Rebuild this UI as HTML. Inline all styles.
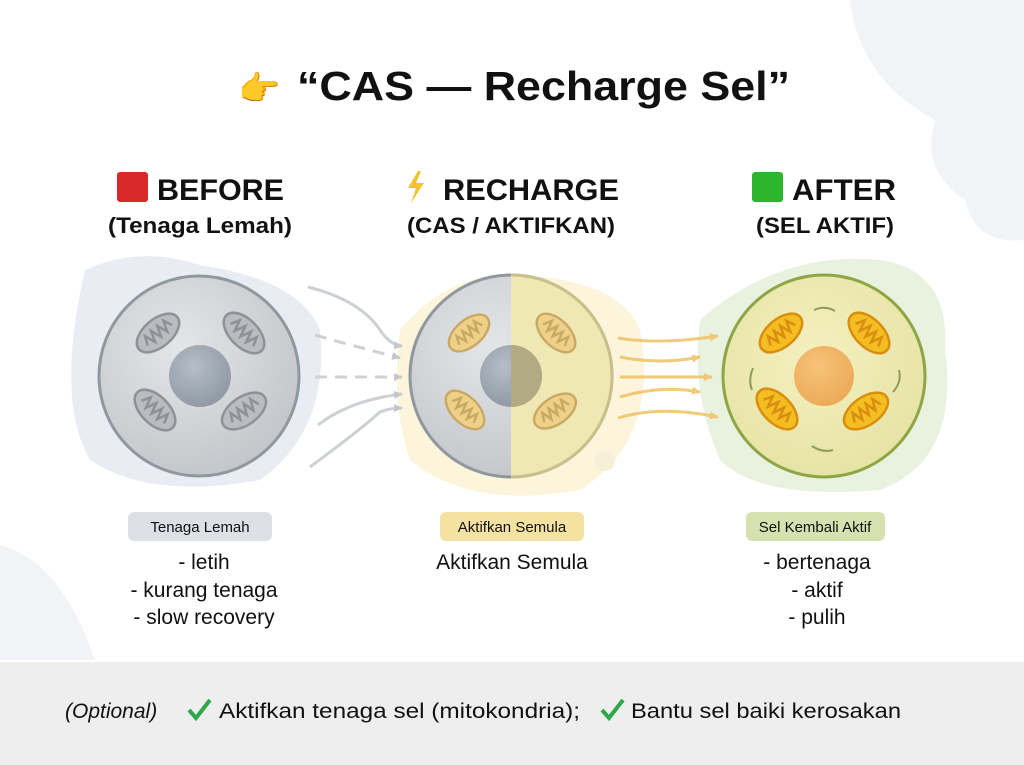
<!DOCTYPE html>
<html><head><meta charset="utf-8"><style>
html,body{margin:0;padding:0;background:#fff}
svg{display:block}
text{font-family:"Liberation Sans",sans-serif;fill:#111}
</style></head><body>
<svg width="1024" height="765" viewBox="0 0 1024 765" xmlns="http://www.w3.org/2000/svg">
<defs>
<radialGradient id="gc" cx="40%" cy="35%" r="70%"><stop offset="0" stop-color="#e4e5e7"/><stop offset="1" stop-color="#c2c5c9"/></radialGradient>
<radialGradient id="yc" cx="45%" cy="40%" r="70%"><stop offset="0" stop-color="#f4f0c0"/><stop offset="1" stop-color="#e3e2a0"/></radialGradient>
<radialGradient id="nuc" cx="40%" cy="35%" r="70%"><stop offset="0" stop-color="#b6bec6"/><stop offset="1" stop-color="#8d98a3"/></radialGradient>
<radialGradient id="onuc" cx="40%" cy="35%" r="70%"><stop offset="0" stop-color="#f7c37a"/><stop offset="1" stop-color="#eba956"/></radialGradient>
<clipPath id="rh"><rect x="511" y="260" width="120" height="240"/></clipPath>
<marker id="ag" markerUnits="userSpaceOnUse" markerWidth="10" markerHeight="10" refX="8" refY="5" orient="auto"><path d="M0,1 L9,5 L0,9 z" fill="#c4c7cb"/></marker>
<marker id="ay" markerUnits="userSpaceOnUse" markerWidth="10" markerHeight="10" refX="8" refY="5" orient="auto"><path d="M0,1 L9,5 L0,9 z" fill="#efc163"/></marker>
<g id="mito"><ellipse cx="0" cy="0" rx="25" ry="14"/><path d="M-16,3 L-12,-6 L-8,5 L-4,-6 L0,5 L4,-6 L8,5 L12,-6 L16,3" fill="none"/></g>
</defs>
<!-- background blobs -->
<path d="M850,0 L1024,0 L1024,240 Q975,245 965,200 Q920,170 935,120 Q860,80 850,0z" fill="#f1f3f7"/>
<path d="M0,545 Q60,560 95,660 L0,660z" fill="#f1f3f7"/>
<path d="M85,270 Q140,245 200,265 Q300,280 320,330 Q330,430 260,480 Q150,500 90,460 Q55,400 85,270z" fill="#e9edf3"/>
<path d="M400,330 Q450,270 520,275 Q620,280 640,330 Q660,440 580,490 Q470,510 410,460 Q390,400 400,330z" fill="#fcf5dc"/>
<path d="M700,320 Q780,250 880,260 Q950,270 945,350 Q960,460 880,490 Q760,500 720,460 Q690,390 700,320z" fill="#e9f2de"/>
<circle cx="605" cy="461" r="10" fill="#f7f0d8"/>
<!-- title -->
<text x="238" y="100" font-size="34">👉</text>
<text x="297" y="100" font-size="41" font-weight="bold" textLength="493" lengthAdjust="spacingAndGlyphs">“CAS — Recharge Sel”</text>
<!-- headers -->
<rect x="117" y="172" width="31" height="30" rx="3" fill="#d82828"/>
<text x="157" y="200" font-size="30" font-weight="bold" textLength="127" lengthAdjust="spacingAndGlyphs">BEFORE</text>
<text x="108" y="233" font-size="22" font-weight="bold" textLength="184" lengthAdjust="spacingAndGlyphs">(Tenaga Lemah)</text>
<path d="M418,171 L408,188 L416,188 L411,203 L424,183 L416,183 L421,171z" fill="#f2c230"/>
<text x="443" y="200" font-size="30" font-weight="bold" textLength="176" lengthAdjust="spacingAndGlyphs">RECHARGE</text>
<text x="407" y="233" font-size="22" font-weight="bold" textLength="208" lengthAdjust="spacingAndGlyphs">(CAS / AKTIFKAN)</text>
<rect x="752" y="172" width="31" height="30" rx="3" fill="#2eb52e"/>
<text x="792" y="200" font-size="30" font-weight="bold" textLength="104" lengthAdjust="spacingAndGlyphs">AFTER</text>
<text x="756" y="233" font-size="22" font-weight="bold" textLength="138" lengthAdjust="spacingAndGlyphs">(SEL AKTIF)</text>
<!-- gray arrows -->
<g fill="none" stroke="#cdd0d4" stroke-width="3" marker-end="url(#ag)">
<path d="M308,287 Q360,300 380,330 Q390,345 402,346"/>
<path d="M315,335 Q350,345 400,358" stroke-dasharray="12,8"/>
<path d="M315,377 L402,377" stroke-dasharray="12,8"/>
<path d="M318,425 Q350,400 402,394"/>
<path d="M310,467 Q360,430 380,412 Q390,408 402,408"/>
</g>
<!-- yellow arrows -->
<g fill="none" stroke="#efc163" stroke-width="3" opacity="0.85" marker-end="url(#ay)">
<path d="M618,338 Q660,345 718,336"/>
<path d="M620,357 Q660,365 700,357"/>
<path d="M620,377 L712,377"/>
<path d="M620,397 Q660,385 700,392"/>
<path d="M618,418 Q660,405 718,417"/>
</g>
<!-- left cell -->
<circle cx="199" cy="376" r="100" fill="url(#gc)" stroke="#8f989f" stroke-width="3"/>
<g fill="#b9bcc0" stroke="#8e9297" stroke-width="2.5">
<use href="#mito" transform="translate(158 333) rotate(-40)"/>
<use href="#mito" transform="translate(244 333) rotate(45)"/>
<use href="#mito" transform="translate(155 410) rotate(45)"/>
<use href="#mito" transform="translate(244 411) rotate(-35)"/>
</g>
<circle cx="200" cy="376" r="31" fill="url(#nuc)"/>
<!-- middle cell -->
<circle cx="511" cy="376" r="101" fill="url(#gc)" stroke="#8f989f" stroke-width="3"/>
<g clip-path="url(#rh)"><circle cx="511" cy="376" r="101" fill="#efe7b4" stroke="#c9c08a" stroke-width="3"/></g>
<g fill="#efd08a" stroke="#c8a963" stroke-width="2.5">
<use href="#mito" transform="translate(469 333) rotate(-40) scale(0.95)"/>
<use href="#mito" transform="translate(556 333) rotate(45) scale(0.95)"/>
<use href="#mito" transform="translate(465 410) rotate(45) scale(0.95)"/>
<use href="#mito" transform="translate(555 411) rotate(-35) scale(0.95)"/>
</g>
<circle cx="511" cy="376" r="31" fill="url(#nuc)"/>
<path d="M511,345 A31,31 0 0 1 511,407z" fill="#b1aa82"/>
<!-- right cell -->
<circle cx="824" cy="376" r="101" fill="url(#yc)" stroke="#8ea545" stroke-width="3"/>
<g fill="#f4be22" stroke="#d98e10" stroke-width="2.5">
<use href="#mito" transform="translate(781 333) rotate(-40)"/>
<use href="#mito" transform="translate(869 333) rotate(45)"/>
<use href="#mito" transform="translate(777 409) rotate(45)"/>
<use href="#mito" transform="translate(866 411) rotate(-35)"/>
</g>
<circle cx="824" cy="376" r="30" fill="url(#onuc)"/>
<g fill="none" stroke="#8f9b5a" stroke-width="2">
<path d="M814,310 Q825,305 835,311"/><path d="M899,370 Q902,382 893,392"/>
<path d="M833,450 Q822,453 812,446"/><path d="M752,390 Q748,380 753,368"/>
</g>
<!-- pills -->
<rect x="128" y="512" width="144" height="29" rx="6" fill="#dde0e5"/>
<text x="200" y="532" font-size="15" text-anchor="middle">Tenaga Lemah</text>
<rect x="440" y="512" width="144" height="29" rx="6" fill="#f4e2a2"/>
<text x="512" y="532" font-size="15" text-anchor="middle">Aktifkan Semula</text>
<rect x="746" y="512" width="139" height="29" rx="6" fill="#d5e2b0"/>
<text x="815" y="532" font-size="15" text-anchor="middle">Sel Kembali Aktif</text>
<g font-size="21" text-anchor="middle">
<text x="204" y="569">- letih</text>
<text x="204" y="597">- kurang tenaga</text>
<text x="204" y="624">- slow recovery</text>
<text x="512" y="569">Aktifkan Semula</text>
<text x="817" y="569">- bertenaga</text>
<text x="817" y="597">- aktif</text>
<text x="817" y="624">- pulih</text>
</g>
<!-- footer -->
<rect x="0" y="662" width="1024" height="103" fill="#eeeeee"/>
<text x="65" y="718" font-size="21" font-style="italic" fill="#333">(Optional)</text>
<path d="M189,710 L196,718 L210,700" fill="none" stroke="#2ea84a" stroke-width="4"/>
<text x="219" y="718" font-size="21" textLength="361" lengthAdjust="spacingAndGlyphs">Aktifkan tenaga sel (mitokondria);</text>
<path d="M602,710 L609,718 L623,700" fill="none" stroke="#2ea84a" stroke-width="4"/>
<text x="631" y="718" font-size="21" textLength="270" lengthAdjust="spacingAndGlyphs">Bantu sel baiki kerosakan</text>
</svg>
</body></html>
